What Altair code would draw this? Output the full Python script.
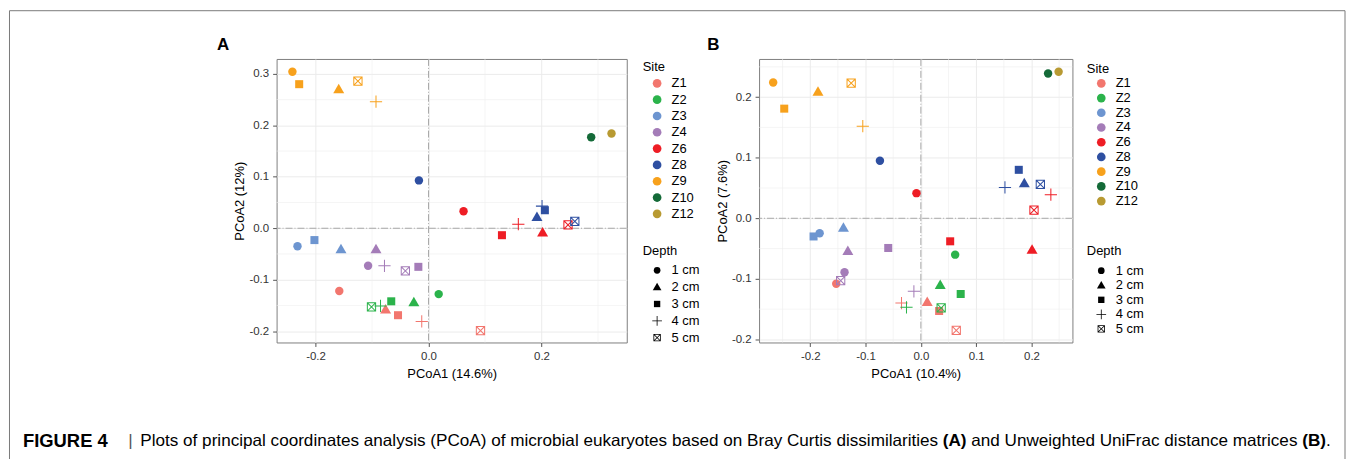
import altair as alt
import pandas as pd

FONT = "Liberation Sans"

sites = ["Z1", "Z2", "Z3", "Z4", "Z6", "Z8", "Z9", "Z10", "Z12"]
site_colors = ["#F2766E", "#2BB34B", "#6D95D0", "#A47CB8", "#EE1D25",
               "#2E4FA1", "#F7A11C", "#146A38", "#B89A32"]
depths = ["1 cm", "2 cm", "3 cm", "4 cm", "5 cm"]

# ---- Panel A : Bray Curtis ----
a_site = ["Z1"] * 5 + ["Z2"] * 5 + ["Z3"] * 3 + ["Z4"] * 5 + ["Z6"] * 5 + ["Z8"] * 5 + ["Z9"] * 5 + ["Z10", "Z12"]
a_depth = (depths + depths + depths[:3] + depths + depths + depths + depths + ["1 cm", "1 cm"])
a_x = [-0.158, -0.076, -0.054, -0.012, 0.092,
       0.018, -0.026, -0.066, -0.085, -0.101,
       -0.232, -0.155, -0.202,
       -0.107, -0.093, -0.018, -0.078, -0.041,
       0.062, 0.202, 0.130, 0.159, 0.247,
       -0.017, 0.192, 0.206, 0.201, 0.259,
       -0.241, -0.159, -0.229, -0.093, -0.125,
       0.288, 0.324]
a_y = [-0.122, -0.158, -0.169, -0.181, -0.199,
       -0.128, -0.144, -0.142, -0.151, -0.153,
       -0.035, -0.041, -0.023,
       -0.073, -0.041, -0.075, -0.073, -0.083,
       0.033, -0.008, -0.0135, 0.008, 0.0065,
       0.093, 0.022, 0.035, 0.043, 0.0135,
       0.304, 0.270, 0.280, 0.246, 0.286,
       0.177, 0.184]
a_x_ticks = [-0.2, 0.0, 0.2]
a_x_minor = [-0.1, 0.1, 0.3]
a_y_ticks = [-0.2, -0.1, 0.0, 0.1, 0.2, 0.3]
a_y_minor = [-0.15, -0.05, 0.05, 0.15, 0.25]

# ---- Panel B : Unweighted UniFrac ----
b_site = a_site
b_depth = a_depth
b_x = [-0.153, 0.0115, 0.033, -0.035, 0.064,
       0.062, 0.035, 0.072, -0.026, 0.0367,
       -0.183, -0.140, -0.194,
       -0.138, -0.132, -0.059, -0.0126, -0.145,
       -0.008, 0.201, 0.053, 0.235, 0.2045,
       -0.074, 0.187, 0.177, 0.152, 0.216,
       -0.267, -0.186, -0.247, -0.105, -0.126,
       0.230, 0.249]
b_y = [-0.108, -0.138, -0.153, -0.140, -0.185,
       -0.060, -0.110, -0.125, -0.147, -0.148,
       -0.0246, -0.0154, -0.030,
       -0.089, -0.054, -0.049, -0.1205, -0.103,
       0.0415, -0.052, -0.038, 0.039, 0.0136,
       0.095, 0.058, 0.080, 0.051, 0.056,
       0.224, 0.209, 0.181, 0.152, 0.223,
       0.239, 0.242]
b_x_ticks = [-0.2, -0.1, 0.0, 0.1, 0.2]
b_x_minor = [-0.25, -0.15, -0.05, 0.05, 0.15, 0.25]
b_y_ticks = [-0.2, -0.1, 0.0, 0.1, 0.2]
b_y_minor = [-0.15, -0.05, 0.05, 0.15, 0.25]

caption_parts = [
    ("FIGURE 4", "bold"),
    ("|", "normal"),
    ("Plots of principal coordinates analysis (PCoA) of microbial eukaryotes based on Bray Curtis dissimilarities", "normal"),
    ("(A)", "bold"),
    ("and Unweighted UniFrac distance matrices", "normal"),
    ("(B)", "bold"),
    (".", "normal"),
]

# ---- symbol shapes (filled outlines so that everything is a filled path) ----
TRI = "M0,-1.3L1.3,0.95L-1.3,0.95Z"
SQR = "M-0.95,-0.95H0.95V0.95H-0.95Z"
PLUS = "M-1.45,-0.12H1.45V0.12H-1.45Z M-0.12,-1.45H0.12V1.45H-0.12Z"
BOXX = ("M-1.1,-1.1H1.1V1.1H-1.1Z M-0.86,-0.86V0.86H0.86V-0.86Z "
        "M-0.93,-1.1L1.1,0.93L0.93,1.1L-1.1,-0.93Z "
        "M1.1,-0.93L-0.93,1.1L-1.1,0.93L0.93,-1.1Z")
shape_range = ["circle", TRI, SQR, PLUS, BOXX]

LABEL_EXPR = "(datum.value < -0.0001 ? '-' : '') + format(abs(datum.value), '.1f')"


def make_axis(values, title, title_pad):
    return alt.Axis(
        values=values, title=title, labelExpr=LABEL_EXPR,
        gridColor="#EBEBEB", gridWidth=1, domain=False, tickSize=4, tickColor="#555555",
        labelPadding=4, labelFontSize=11.5, labelColor="#333333", labelFont=FONT,
        titleFontSize=13, titleFontWeight="normal", titleColor="black", titleFont=FONT,
        titlePadding=title_pad, labelFlush=False, labelOverlap=False,
    )


def one_row():
    return pd.DataFrame({"k": [0]})


def text_layer(txt, x, y, size, weight, color="black"):
    return alt.Chart(one_row()).mark_text(
        text=txt, font=FONT, fontSize=size, fontWeight=weight, align="left",
        baseline="middle", color=color
    ).encode(x=alt.value(x), y=alt.value(y))


def build_panel(df, xdom, ydom, xticks, xminor, yticks, yminor, xtitle, ytitle,
                w, h, site_leg, depth_leg, extra):
    xs = alt.Scale(domain=xdom, nice=False, zero=False)
    ys = alt.Scale(domain=ydom, nice=False, zero=False)
    xax = make_axis(xticks, xtitle, 6)
    yax = make_axis(yticks, ytitle, 2)
    gx = alt.Chart(pd.DataFrame({"x": xminor})).mark_rule(
        color="#EEEEEE", strokeWidth=0.6).encode(x=alt.X("x:Q", scale=xs, axis=xax))
    gy = alt.Chart(pd.DataFrame({"y": yminor})).mark_rule(
        color="#EEEEEE", strokeWidth=0.6).encode(y=alt.Y("y:Q", scale=ys, axis=yax))
    zx = alt.Chart(pd.DataFrame({"x": [0.0]})).mark_rule(
        color="#A8A8A8", strokeWidth=1, strokeDash=[7, 2, 1, 2]
    ).encode(x=alt.X("x:Q", scale=xs, axis=xax))
    zy = alt.Chart(pd.DataFrame({"y": [0.0]})).mark_rule(
        color="#A8A8A8", strokeWidth=1, strokeDash=[7, 2, 1, 2]
    ).encode(y=alt.Y("y:Q", scale=ys, axis=yax))
    pts = alt.Chart(df).mark_point(filled=True, size=72, opacity=1, strokeWidth=0).encode(
        x=alt.X("x:Q", scale=xs, axis=xax),
        y=alt.Y("y:Q", scale=ys, axis=yax),
        color=alt.Color("site:N", scale=alt.Scale(domain=sites, range=site_colors),
                        sort=sites, legend=site_leg),
        shape=alt.Shape("depth:N", scale=alt.Scale(domain=depths, range=shape_range),
                        sort=depths, legend=depth_leg),
    )
    return alt.layer(gx, gy, zx, zy, pts, *extra).properties(width=w, height=h)


def legends(lx, ly_site, ly_depth, site_pad, depth_pad, site_tpad, depth_tpad, lsize):
    common = dict(orient="none", padding=0, titleFontSize=13, titleFontWeight="normal",
                  titleFont=FONT, labelFont=FONT, labelFontSize=lsize, labelColor="black",
                  titleColor="black", symbolOffset=8, labelOffset=8, symbolStrokeWidth=0)
    site_leg = alt.Legend(title="Site", legendX=lx, legendY=ly_site, symbolType="circle",
                          symbolSize=76, rowPadding=site_pad, titlePadding=site_tpad, **common)
    depth_leg = alt.Legend(title="Depth", legendX=lx, legendY=ly_depth, symbolSize=45,
                           symbolFillColor="black", rowPadding=depth_pad,
                           titlePadding=depth_tpad, **common)
    return site_leg, depth_leg


df_a = pd.DataFrame({"site": a_site, "depth": a_depth, "x": a_x, "y": a_y})
df_b = pd.DataFrame({"site": b_site, "depth": b_depth, "x": b_x, "y": b_y})

# annotation layers for panel A (its plot origin sits at page x=277, y=57)
frame = alt.Chart(one_row()).mark_rect(fillOpacity=0, stroke="#7A7A7A", strokeWidth=1).encode(
    x=alt.value(-268.5), x2=alt.value(1074), y=alt.value(-48.5), y2=alt.value(420))
cap_x = [22, 128, 140, 946.6, 975.3, 1308, 1331.9]
cap_size = [18.5, 17.2, 17.2, 17.2, 17.2, 17.2, 17.2]
cap_layers = []
for (txt, wt), cx, cs in zip(caption_parts, cap_x, cap_size):
    cap_layers.append(text_layer(txt, cx - 277, 441 - 57, cs, wt,
                                 "#555555" if txt == "|" else "black"))

sa, da = legends(368, 2, 187, 2.4, 2.9, 3, 6, 13)
panel_a = build_panel(
    df_a, [-0.269, 0.351], [-0.222, 0.329],
    a_x_ticks, a_x_minor, a_y_ticks, a_y_minor,
    "PCoA1 (14.6%)", "PCoA2 (12%)", 352, 285, sa, da,
    [frame, text_layer("A", -60, -14, 17, "bold")] + cap_layers,
)

sb, db = legends(329.5, 4, 187, 0.8, 0.65, 1, 6.3, 13)
panel_b = build_panel(
    df_b, [-0.2925, 0.274], [-0.205, 0.263],
    b_x_ticks, b_x_minor, b_y_ticks, b_y_minor,
    "PCoA1 (10.4%)", "PCoA2 (7.6%)", 315, 285, sb, db,
    [text_layer("B", -52, -14, 17, "bold")],
)

chart = alt.hconcat(panel_a, panel_b, spacing=133, bounds="flush").resolve_scale(
    color="independent", shape="independent", x="independent", y="independent"
).resolve_legend(color="independent", shape="independent").properties(
    padding=0
).configure(font=FONT).configure_view(stroke="#7F7F7F", strokeWidth=1)

chart.save("out.html", embed_options={"renderer": "svg", "actions": False})
